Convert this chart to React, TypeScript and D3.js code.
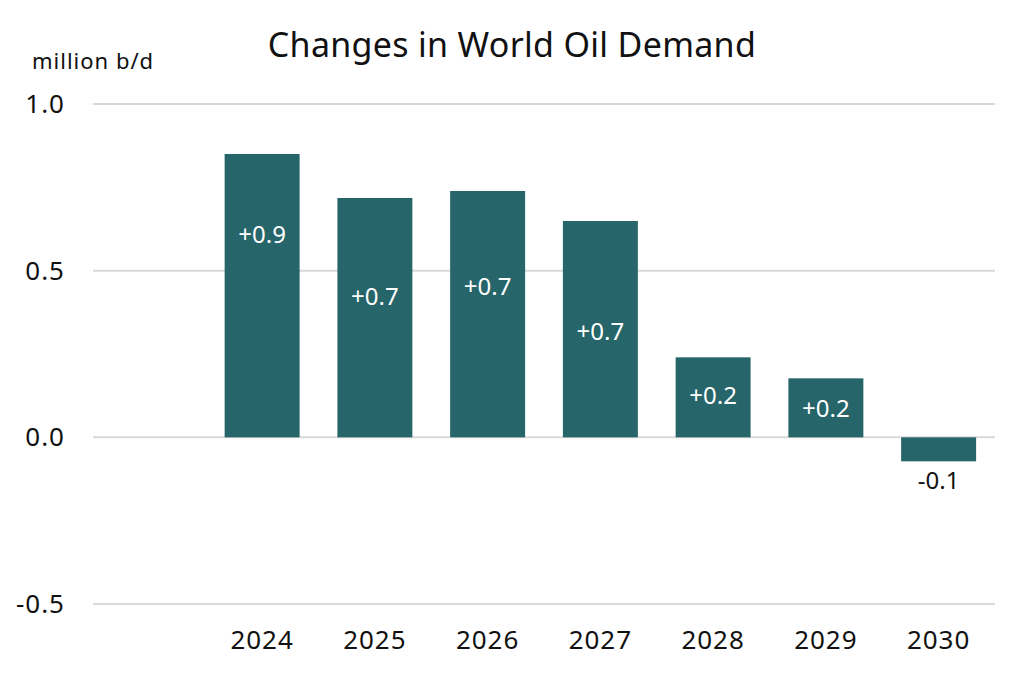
import React from "react";
import * as d3 from "d3";

const categories = ["", "2024", "2025", "2026", "2027", "2028", "2029", "2030"];
const values = [null, 0.85, 0.718, 0.739, 0.649, 0.24, 0.177, -0.072];
const labels = ["", "+0.9", "+0.7", "+0.7", "+0.7", "+0.2", "+0.2", "-0.1"];
const labelAt = [null, 0.607, 0.423, 0.453, 0.318, 0.126, 0.087, -0.13];
const yTicks = [1.0, 0.5, 0.0, -0.5];

const W = 1024, H = 675;
const FONT = "'Noto Sans', sans-serif";

export default function App() {
  const keys = categories.map((c, i) => c || "_" + i);
  const x = d3.scaleBand<string>().domain(keys).range([93, 995]).paddingInner(0.335).paddingOuter(0.1675);
  const y = d3.scaleLinear().domain([-0.5, 1.0]).range([604, 104]);
  const fmt = (t: number) => d3.format(".1f")(t).replace("\u2212", "-");
  return (
    <svg width={W} height={H} style={{ position: "absolute", left: 0, top: 0, background: "#fff" }} fontFamily={FONT}>
      <text x={512} y={57} textAnchor="middle" fontSize={34} letterSpacing={0.3} fill="#111">Changes in World Oil Demand</text>
      <text x={32} y={69} fontSize={22} letterSpacing={1} fill="#111">million b/d</text>
      {yTicks.map((t) => (
        <g key={t}>
          <line x1={93} x2={995} y1={y(t)} y2={y(t)} stroke="#d9d9d9" strokeWidth={2} />
          <text x={65} y={y(t)} dy="0.35em" textAnchor="end" fontSize={26} letterSpacing={1} fill="#111">{fmt(t)}</text>
        </g>
      ))}
      {values.map((v, i) => v === null ? null : (
        <g key={i}>
          <rect x={x(keys[i])} width={x.bandwidth()} y={y(Math.max(0, v))} height={Math.abs(y(v) - y(0))} fill="#266569" />
          <text x={(x(keys[i]) as number) + x.bandwidth() / 2} y={y(labelAt[i] as number)} dy="0.35em" textAnchor="middle" fontSize={24} fill={v >= 0 ? "#fff" : "#111"}>{labels[i]}</text>
        </g>
      ))}
      {categories.map((c, i) => c ? (
        <text key={c} x={(x(keys[i]) as number) + x.bandwidth() / 2} y={640} dy="0.35em" textAnchor="middle" fontSize={26} letterSpacing={1} fill="#111">{c}</text>
      ) : null)}
    </svg>
  );
}
